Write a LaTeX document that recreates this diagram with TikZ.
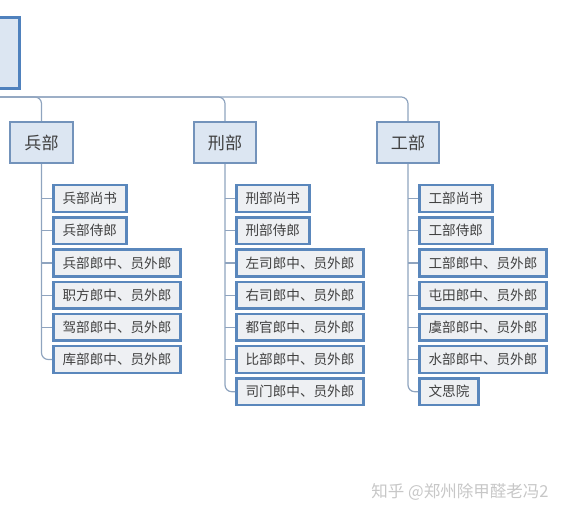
\documentclass[tikz,border=0pt]{standalone}
\usepackage{fontspec}
\setmainfont{Noto Sans CJK SC}
\usepackage{tikz}
\definecolor{linegray}{HTML}{8FA4BF}
\definecolor{boxblue}{HTML}{5A87BC}
\definecolor{deptblue}{HTML}{7393BB}
\definecolor{deptfill}{HTML}{DCE6F2}
\definecolor{postfill}{HTML}{EEF0F3}
\definecolor{headblue}{HTML}{4F81BD}

\begin{document}
\begin{tikzpicture}[x = 0.75pt, y = -0.75pt,
    dept/.style = {draw = deptblue, line width = 1.4pt, fill = deptfill, minimum width = 47pt, minimum height = 31pt, inner sep = 0pt, text = black!75, font = \fontsize{12.8}{14}\selectfont},
    post/.style = {draw = boxblue, line width = 1.9pt, fill = postfill, anchor = west, minimum height = 20pt, inner xsep = 7pt, inner ysep = 0pt, text = black!75, font = \fontsize{10.2}{12}\selectfont},
    wire/.style = {draw = linegray, line width = 0.9pt, rounded corners = 5pt}]
    \useasboundingbox (0, 0) rectangle (563, 518);
    \clip (0, 0) rectangle (563, 518);
    % head box, cut off at the left edge
    \node [draw = headblue, line width = 2.6pt, fill = deptfill, anchor = north east, minimum width = 45pt, minimum height = 53pt] (head) at (21, 16) {};
    \coordinate (hstart) at (0, 97);
    % departments
    \node [dept] (bing) at (41.5, 142.5) {兵部};
    \node [dept] (xing) at (225, 142.5) {刑部};
    \node [dept] (gong) at (408, 142.5) {工部};
    \draw [wire] (hstart) -| (bing.north);
    \draw [wire] (hstart) -| (xing.north);
    \draw [wire] (hstart) -| (gong.north);
    % posts
    \foreach \t [count = \i] in {兵部尚书, 兵部侍郎, 兵部郎中、员外郎, 职方郎中、员外郎, 驾部郎中、员外郎, 库部郎中、员外郎}
        \node [post] (bing\i) at (52, 166.3 + 32.2*\i) {\t};
    \foreach \t [count = \i] in {刑部尚书, 刑部侍郎, 左司郎中、员外郎, 右司郎中、员外郎, 都官郎中、员外郎, 比部郎中、员外郎, 司门郎中、员外郎}
        \node [post] (xing\i) at (235, 166.3 + 32.2*\i) {\t};
    \foreach \t [count = \i] in {工部尚书, 工部侍郎, 工部郎中、员外郎, 屯田郎中、员外郎, 虞部郎中、员外郎, 水部郎中、员外郎, 文思院}
        \node [post] (gong\i) at (418, 166.3 + 32.2*\i) {\t};
    \foreach \i in {1, ..., 5}
        \draw [wire] (bing.south |- bing\i.west) -- (bing\i.west);
    \draw [wire] (bing.south) |- (bing6.west);
    \foreach \i in {1, ..., 6} {
        \draw [wire] (xing.south |- xing\i.west) -- (xing\i.west);
        \draw [wire] (gong.south |- gong\i.west) -- (gong\i.west);
    }
    \draw [wire] (xing.south) |- (xing7.west);
    \draw [wire] (gong.south) |- (gong7.west);
    % watermark
    \node [text = black!22, font = \fontsize{12.4}{14}\selectfont] (mark) at (460, 492) {知乎 @郑州除甲醛老冯2};
\end{tikzpicture}
\end{document}
